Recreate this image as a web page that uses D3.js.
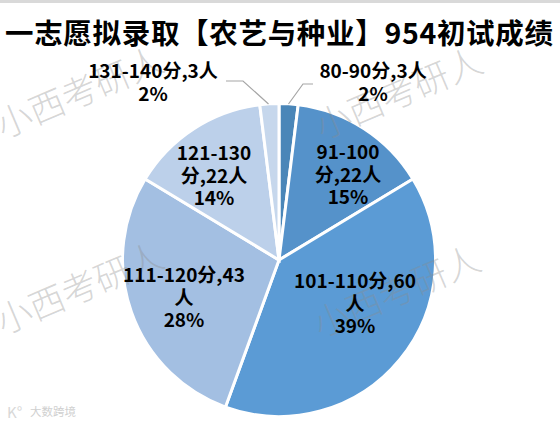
<!DOCTYPE html>
<html><head><meta charset="utf-8">
<script src="https://cdn.jsdelivr.net/npm/d3@7"></script>
<style>html,body{margin:0;padding:0;background:#fff}svg{display:block}text{font-family:"Noto Sans CJK SC","Open Sans",sans-serif}</style>
</head><body><div id="c"></div>
<script>
const categories=["80-90分","91-100分","101-110分","111-120分","121-130分","131-140分"];
const counts=[3,22,60,43,22,3];
const percents=["2%","15%","39%","28%","14%","2%"];
const labelLines=[["80-90分,3人","2%"],["91-100","分,22人","15%"],["101-110分,60","人","39%"],["111-120分,43","人","28%"],["121-130","分,22人","14%"],["131-140分,3人","2%"]];
const colors=["#4a86b8","#5592ca","#5b9bd5","#a3bfe2","#bcd0ea","#c6d7ec"];
const labelPos=[[373,78],[348,159],[355,288],[184,282],[214,160],[153,78]];
const leaderPts=[[[288.5,104],[303,84],[313,84]],[[268.5,104],[243,81],[226,81]]];
const watermarks=[[3,139],[322,140],[3,335],[320,338]];

const W=560,H=424,cx=279,cy=260,R=156.5;
const svg=d3.select("#c").append("svg").attr("width",W).attr("height",H);
svg.append("rect").attr("width",W).attr("height",3).attr("fill","#d9d9d9");

const pie=d3.pie().sort(null)(counts);
const arc=d3.arc().innerRadius(0).outerRadius(R);
svg.append("g").attr("transform",`translate(${cx},${cy})`).selectAll("path").data(pie).join("path")
 .attr("d",arc).attr("fill",(d,i)=>colors[i]).attr("stroke","#fff").attr("stroke-width",3);

const line=d3.line();
svg.selectAll(".leader").data(leaderPts).join("path").attr("class","leader").attr("d",line)
 .attr("fill","none").attr("stroke","#a6a6a6").attr("stroke-width",1.2);

svg.selectAll(".wm").data(watermarks).join("text").attr("class","wm")
 .attr("transform",d=>`translate(${d[0]},${d[1]}) rotate(-23)`)
 .attr("font-size",35.5).attr("font-weight",300).attr("fill","#8c8c8c").attr("fill-opacity",.36)
 .text("小西考研人");

svg.append("text").attr("x",279).attr("y",44).attr("text-anchor","middle")
 .attr("font-size",28.5).attr("font-weight",700).attr("fill","#000").attr("textLength",548).attr("lengthAdjust","spacing")
 .text("一志愿拟录取【农艺与种业】954初试成绩");

const lab=svg.selectAll(".lab").data(labelLines).join("text").attr("class","lab")
 .attr("text-anchor","middle").attr("font-size",19).attr("font-weight",700).attr("fill","#000")
 .attr("transform",(d,i)=>`translate(${labelPos[i][0]},${labelPos[i][1]})`);
lab.selectAll("tspan").data(d=>d).join("tspan").attr("x",0).attr("dy",(d,i)=>i?22.7:0).text(d=>d);

svg.append("text").attr("x",7).attr("y",418).attr("font-size",15).attr("fill","#d8d8d8").text("K°");
svg.append("text").attr("x",30).attr("y",416).attr("font-size",11.5).attr("fill","#d0d0d0").text("大数跨境");
</script></body></html>
